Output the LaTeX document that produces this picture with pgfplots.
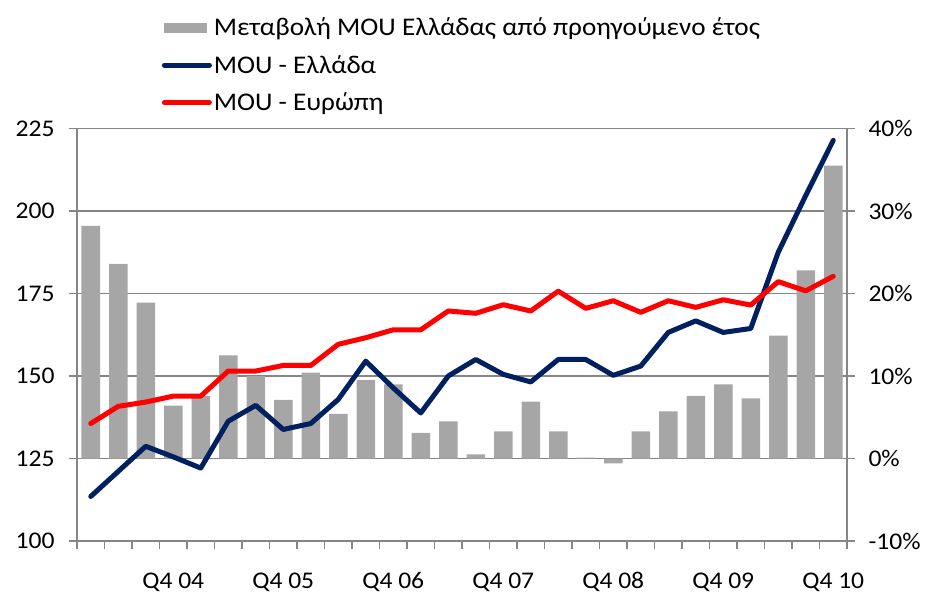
\documentclass[border=0pt]{standalone}
\usepackage{pgfplots}
\pgfplotsset{compat=1.18}
\usepackage{fontspec}
\setmainfont{Carlito}[FakeStretch=1.07]
\definecolor{barc}{HTML}{A6A6A6}
\definecolor{navyc}{HTML}{002060}
\definecolor{gridc}{HTML}{868686}
\pgfplotsset{
  myline legend/.style={legend image code/.code={\draw[##1] (0bp,0bp) -- (45bp,0bp);}},
  mybar legend/.style={legend image code/.code={\fill[barc] (0bp,-4.5bp) rectangle (42bp,4.5bp);}},
  base/.style={
    scale only axis, width=770bp, height=412.5bp,
    xmin=-0.5, xmax=27.5,
    axis line style={gridc, line width=1.3bp},
    tick style={gridc, line width=1.3bp},
    major tick length=8bp,
    tick align=outside,
    /pgf/number format/assume math mode=true,
  }
}
\begin{document}
\begin{tikzpicture}[font=\fontsize{24}{29}\selectfont]
\useasboundingbox (-77bp,-54bp) rectangle (851bp,541bp);
\begin{axis}[base,
  ymin=-10, ymax=40,
  axis y line*=right, axis x line*=bottom,
  ytick={-10,0,10,20,30,40},
  yticklabels={-10\%,0\%,10\%,20\%,30\%,40\%},
  yticklabel style={anchor=west, xshift=10bp},
  ymajorgrids, major grid style={gridc, line width=1.3bp},
  xtick={-0.5,0.5,...,27.5},
  xticklabels={},
  xmajorgrids=false,
  extra x ticks={3,7,11,15,19,23,27},
  extra x tick labels={Q4 04,Q4 05,Q4 06,Q4 07,Q4 08,Q4 09,Q4 10},
  extra x tick style={major tick length=0pt, xticklabel style={anchor=base, yshift=-47bp}},
]
\addplot[ybar, bar width=18.5bp, fill=barc, draw=none] coordinates {
(0,28.2) (1,23.6) (2,18.9) (3,6.4) (4,7.6) (5,12.5) (6,10.0) (7,7.1)
(8,10.4) (9,5.4) (10,9.5) (11,9.0) (12,3.1) (13,4.5) (14,0.5) (15,3.3)
(16,6.9) (17,3.3) (18,0.1) (19,-0.6) (20,3.3) (21,5.7) (22,7.6) (23,9.0)
(24,7.3) (25,14.9) (26,22.8) (27,35.5)};
\end{axis}
\begin{axis}[base,
  ymin=100, ymax=225,
  axis y line*=left, axis x line=none,
  ytick={100,125,...,225},
  yticklabel style={anchor=east, xshift=-11bp},
  legend style={at={(0.110,1.273)}, anchor=north west, draw=none, fill=none,
    inner sep=0pt, row sep=14bp, font=\fontsize{25.5}{30}\selectfont,
    nodes={inner xsep=2bp, inner ysep=2bp, anchor=west}},
  legend cell align=left,
]
\addlegendimage{mybar legend}
\addlegendentry{Μεταβολή MOU Ελλάδας από προηγούμενο έτος}
\addplot[navyc, line width=5bp, line cap=round, line join=round, myline legend] coordinates {
(0,113.5) (1,121.1) (2,128.7) (3,125.5) (4,122.1) (5,136.3) (6,141.1) (7,133.8)
(8,135.6) (9,142.9) (10,154.5) (11,146.4) (12,138.8) (13,150.0) (14,155.0) (15,150.5)
(16,148.2) (17,155.0) (18,155.0) (19,150.2) (20,153.0) (21,163.2) (22,166.7) (23,163.2)
(24,164.4) (25,187.5) (26,204.7) (27,221.4)};
\addlegendentry{MOU - Ελλάδα}
\addplot[red, line width=5bp, line cap=round, line join=round, myline legend] coordinates {
(0,135.6) (1,140.8) (2,142.1) (3,143.9) (4,143.9) (5,151.5) (6,151.5) (7,153.2)
(8,153.2) (9,159.6) (10,161.6) (11,164.0) (12,164.0) (13,169.7) (14,169.0) (15,171.6)
(16,169.7) (17,175.7) (18,170.5) (19,172.8) (20,169.3) (21,172.8) (22,170.8) (23,173.1)
(24,171.5) (25,178.6) (26,175.8) (27,180.2)};
\addlegendentry{MOU - Ευρώπη}
\end{axis}
\end{tikzpicture}
\end{document}
